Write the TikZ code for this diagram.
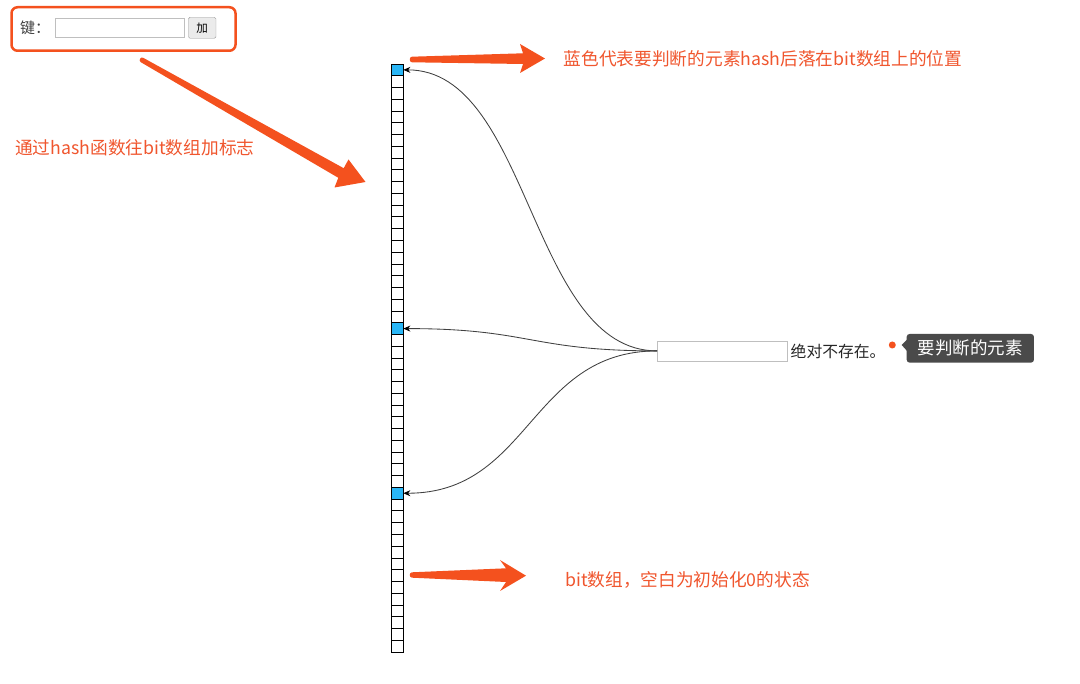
\documentclass[tikz,border=0pt]{standalone}
\usepackage{fontspec}
\setmainfont{Noto Sans CJK SC}
\usetikzlibrary{arrows.meta}
\definecolor{arrred}{RGB}{244,81,30}
\definecolor{txtred}{RGB}{240,86,46}
\definecolor{cellblue}{RGB}{41,182,246}
\definecolor{tipgray}{RGB}{74,74,74}
\begin{document}
\begin{tikzpicture}[x=1pt,y=-1pt,
  cell/.style={draw=black,line width=0.8pt,minimum width=12.3pt,minimum height=11.76pt,inner sep=0pt,outer sep=0pt},
  hit/.style={cell,fill=cellblue},
  note/.style={text=txtred,font=\fontsize{17.7}{21}\selectfont,anchor=west,inner sep=0pt},
  link/.style={draw=black!75,line width=0.85pt,-{Stealth[length=7pt,width=6pt,color=black]}},
  bigarrow/.style={fill=arrred,draw=none}]
\useasboundingbox[fill=white] (0,0) rectangle (1080,684);

% bit array
\foreach \i in {0,...,49}{
  \pgfmathsetmacro\yy{69.88+11.76*\i}
  \ifnum\i=0 \def\st{hit}\else\ifnum\i=22 \def\st{hit}\else\ifnum\i=36 \def\st{hit}\else\def\st{cell}\fi\fi\fi
  \node[\st] (c\i) at (397.2,\yy) {};
}

% top-left form
\node[draw=arrred,line width=2.5pt,rounded corners=6pt,minimum width=224pt,minimum height=43.5pt,inner sep=0pt] (keybox) at (123.5,29) {};
\node[font=\fontsize{15}{17}\selectfont,text=black!75,anchor=west,inner sep=0pt] (keylbl) at (20,28) {键：};
\node[draw=black!25,fill=white,minimum width=129pt,minimum height=19pt,inner sep=0pt] (keyin) at (119.7,27.8) {};
\node[draw=black!40,fill=black!8,rounded corners=1.5pt,minimum width=27.5pt,minimum height=21pt,inner sep=0pt,font=\fontsize{11.5}{13}\selectfont] (addbtn) at (202.2,27.8) {加};

% right side element
\node[draw=black!25,minimum width=129.4pt,minimum height=20.3pt,inner sep=0pt] (inp) at (722,350.9) {};
\node[anchor=west,font=\fontsize{15.8}{18}\selectfont,text=black!85,inner sep=0pt] (absent) at (790.5,351) {绝对不存在。};
\node[circle,fill=arrred,minimum size=7pt,inner sep=0pt] (dot) at (892.3,345) {};
\node[fill=tipgray,rounded corners=3pt,text=white,minimum width=127.3pt,minimum height=28.7pt,inner sep=0pt,font=\fontsize{17.5}{20}\selectfont] (tip) at (970.3,348.3) {要判断的元素};
\fill[tipgray] (907.5,339) -- (901.7,345) -- (907.5,351.5) -- cycle;

% hash links
\draw[link] (inp.west) .. controls +(-127,0) and +(127,0) .. (c0.east);
\draw[link] (inp.west) .. controls +(-127,0) and +(127,0) .. (c22.east);
\draw[link] (inp.west) .. controls +(-127,0) and +(127,0) .. (c36.east);

% red annotation arrows
\fill[bigarrow] (143.2,57.8) -- (343.7,168.2) -- (348.5,159.5) -- (365.5,182) -- (334.5,187.5) -- (338.3,177.8) -- (140.8,62.2) .. controls (138.2,60.7) and (140.6,56.3) .. cycle;
\fill[bigarrow] (412,56.7) -- (523,53.3) -- (520,44) -- (545,58.5) -- (520,73) -- (523,64) -- (412,62.3) .. controls (409,62.3) and (409,56.7) .. cycle;
\fill[bigarrow] (412,572.3) -- (506,568.3) -- (500,560) -- (526,575.7) -- (500,591) -- (506,582) -- (412,577.7) .. controls (409,577.7) and (409,572.3) .. cycle;

% notes
\node[note] (t1) at (563.5,59) {蓝色代表要判断的元素hash后落在bit数组上的位置};
\node[note] (t2) at (15,147.5) {通过hash函数往bit数组加标志};
\node[note] (t3) at (565,579.5) {bit数组，空白为初始化0的状态};
\end{tikzpicture}
\end{document}
